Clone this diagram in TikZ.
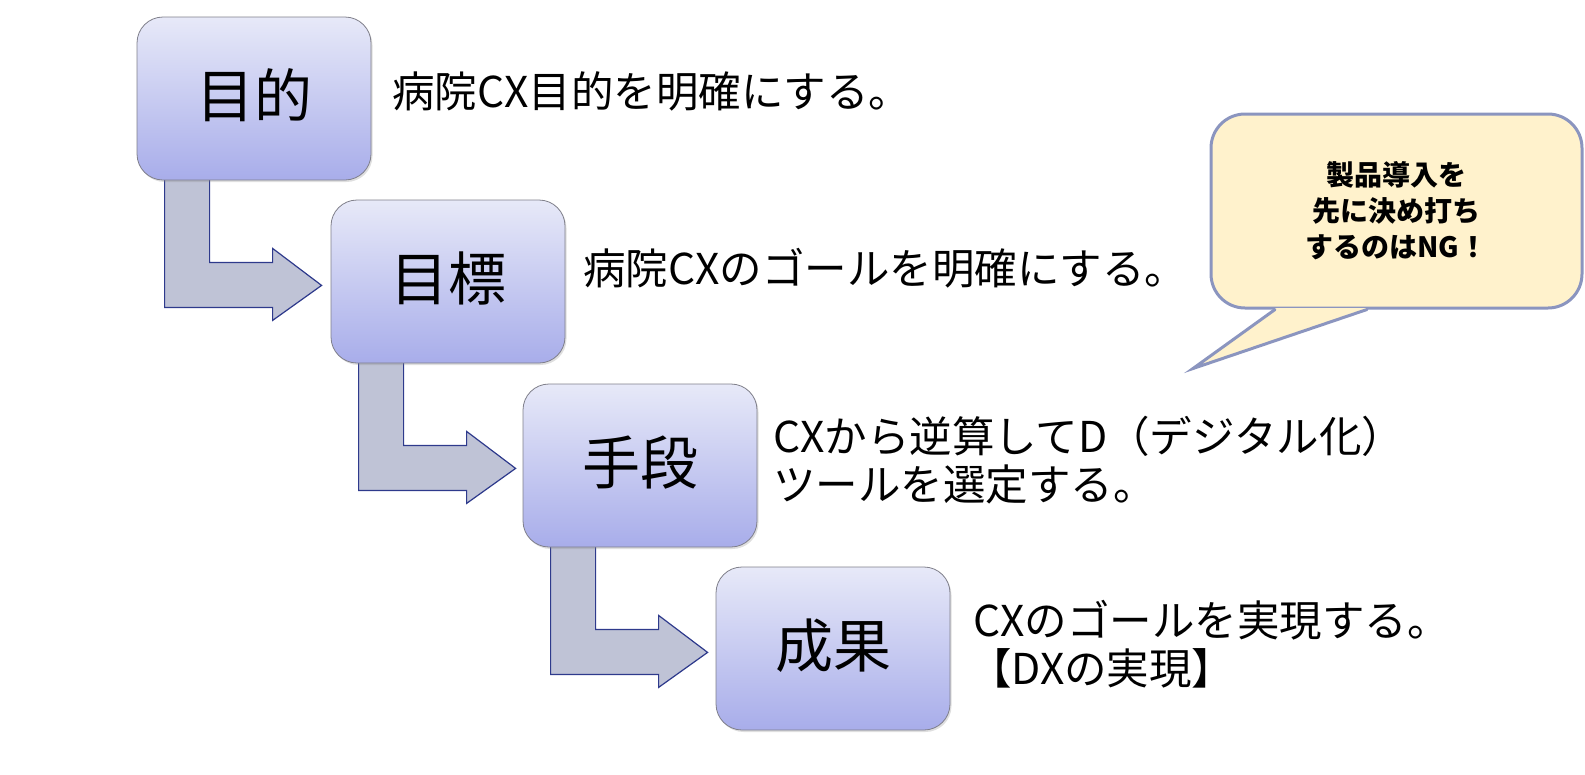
\documentclass[tikz,border=0pt]{standalone}
\usepackage{fontspec}
\setmainfont{Noto Sans CJK JP}
\usetikzlibrary{shadows,calc}
\pgfdeclarelayer{background}
\pgfsetlayers{background,main}
\definecolor{boxtop}{HTML}{E7E9F8}
\definecolor{boxbot}{HTML}{A8ADEA}
\definecolor{boxline}{HTML}{7F7F8A}
\definecolor{arrfill}{HTML}{BFC3D6}
\definecolor{arrline}{HTML}{2E3A8C}
\definecolor{notefill}{HTML}{FFF2CC}
\definecolor{noteline}{HTML}{8B95BF}
\newcommand{\upbox}[1]{\raisebox{11pt}{#1}}
\begin{document}
\begin{tikzpicture}[x=1pt,y=-1pt,
  stagebox/.style={rounded corners=26pt, draw=boxline, line width=0.8pt,
    top color=boxtop, bottom color=boxbot, minimum width=234pt, minimum height=163pt,
    inner sep=0pt, font=\fontsize{58}{64}\selectfont,
    drop shadow={shadow xshift=1.5pt, shadow yshift=-2pt, opacity=0.25}},
  desc/.style={anchor=west, align=left, inner sep=0pt, font=\fontsize{42.5}{48}\selectfont},
  bentarrow/.style={fill=arrfill, draw=arrline, line width=1.2pt, line join=miter},
  notebody/.style={rounded corners=34pt, fill=notefill, draw=noteline, line width=3pt,
    minimum width=371pt, minimum height=194pt, align=center,
    font=\bfseries\fontsize{28}{36}\selectfont},
]
\useasboundingbox (0,0) rectangle (1585,774);

% stage boxes
\node[stagebox] (b1) at (254,98.5) {\upbox{目的}};
\node[stagebox] (b2) at (448,281.5) {\upbox{目標}};
\node[stagebox] (b3) at (640,465.5) {\upbox{手段}};
\node[stagebox] (b4) at (833,648.5) {\upbox{成果}};

% bent arrows
\begin{pgfonlayer}{background}
\foreach \s/\t in {b1/b2, b2/b3, b3/b4}{
  \draw[bentarrow] ($(\s.south west)+(28,-3)$) -- ($(\s.south west)+(73,-3)$)
    -- ($(\s.south west)+(73,82)$) -- ($(\s.south west)+(136,82)$)
    -- ($(\s.south west)+(136,68)$) -- ($(\s.south west)+(185,105)$)
    -- ($(\s.south west)+(136,140)$) -- ($(\s.south west)+(136,127)$)
    -- ($(\s.south west)+(28,127)$) -- cycle;
}
\end{pgfonlayer}

% descriptions
\node[desc] (d1) at (392,91) {病院CX目的を明確にする。};
\node[desc] (d2) at (583,268) {病院CXのゴールを明確にする。};
\node[desc] (d3) at (773,460) {CXから逆算してD（デジタル化）\\ツールを選定する。};
\node[desc] (d4) at (973,644.5) {CXのゴールを実現する。\\\hspace{-4pt}【DXの実現】};

% callout
\node[notebody] (note) at (1396.5,211) {製品導入を\\先に決め打ち\\するのはNG！};
\coordinate (ta) at ($(note.south)+(-121.5,0)$);
\coordinate (tb) at ($(note.south)+(-29.5,0)$);
\coordinate (tip) at ($(note.south)+(-203.5,59)$);
\fill[notefill] (ta) -- (tip) -- (tb) -- cycle;
\fill[notefill] ($(ta)+(0,-1.7)$) rectangle ($(tb)+(0,1.7)$);
\draw[noteline, line width=3pt, line cap=round, line join=miter] (ta) -- (tip) -- (tb);
\end{tikzpicture}
\end{document}
